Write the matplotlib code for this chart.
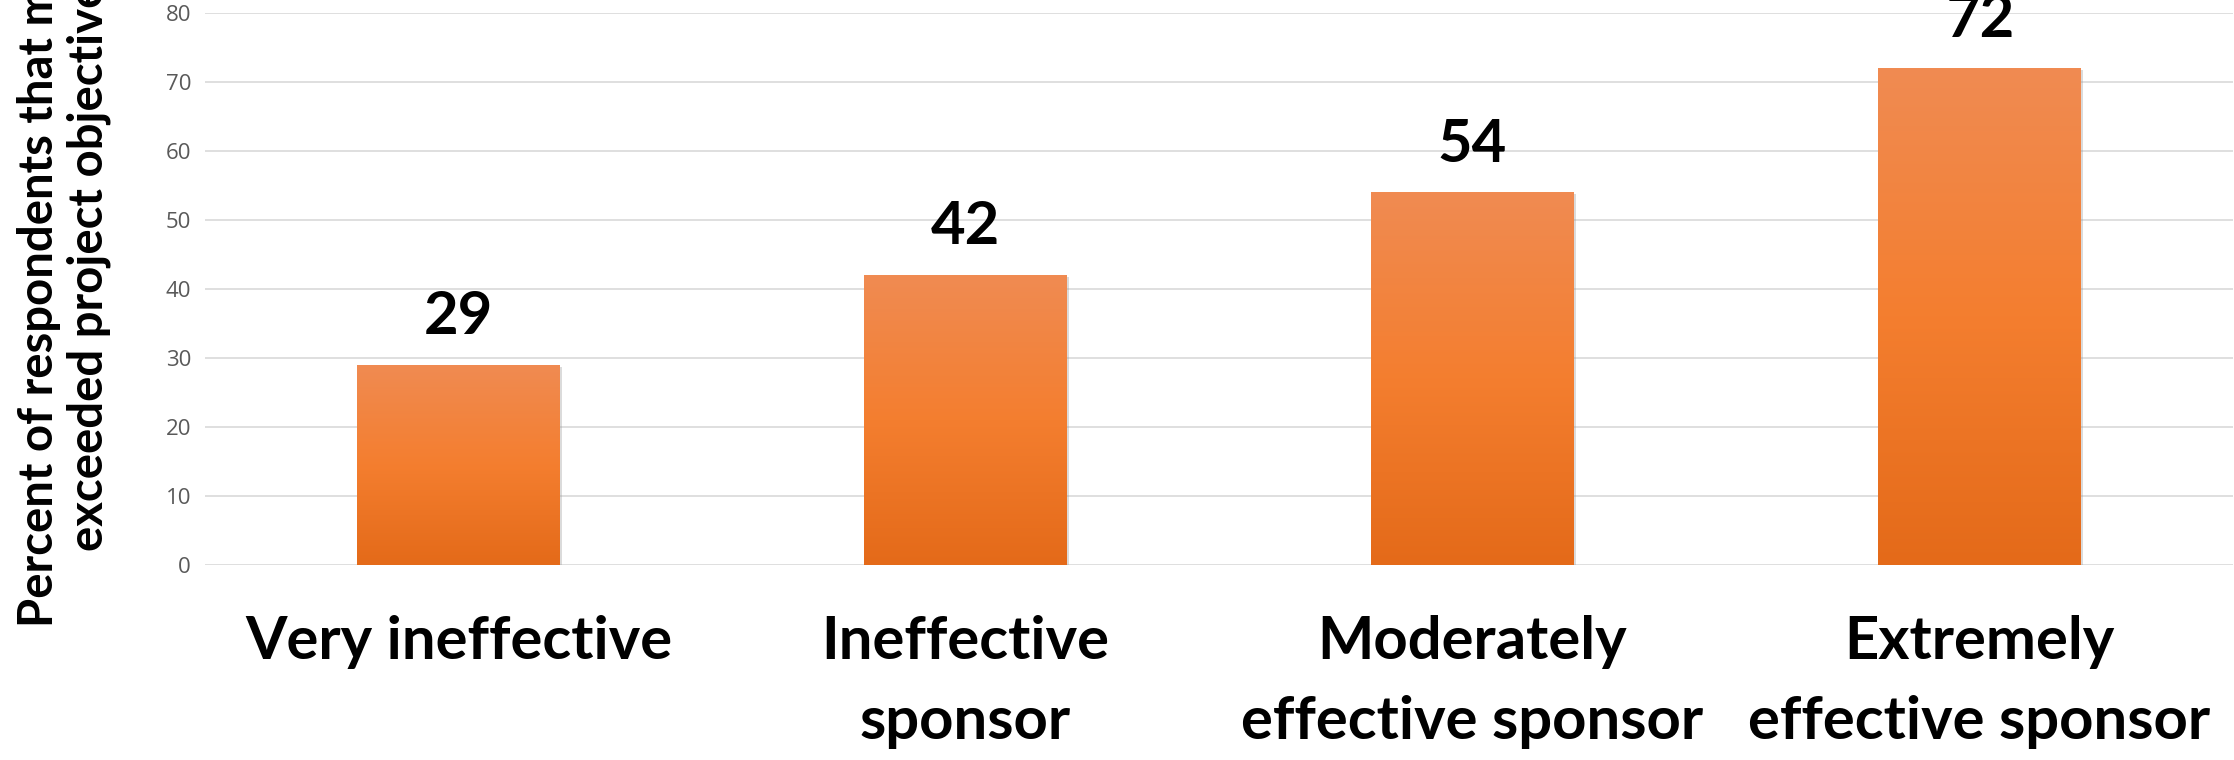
import numpy as np
import matplotlib.pyplot as plt
from matplotlib import patheffects
from matplotlib.colors import LinearSegmentedColormap

categories = ["Very ineffective", "Ineffective\nsponsor",
              "Moderately\neffective sponsor", "Extremely\neffective sponsor"]
values = [29, 42, 54, 72]
y_ticks = [0, 10, 20, 30, 40, 50, 60, 70, 80]
y_label = "Percent of respondents that met or\nexceeded project objectives"

bold_font = ["Lato", "DejaVu Sans"]

fig = plt.figure(figsize=(22.34, 7.6), dpi=100)
ax = fig.add_axes([205 / 2234, 195 / 760, 2028 / 2234, 552 / 760])

x = np.arange(len(categories))
bars = ax.bar(x, values, width=0.40, color="#F07F2E", zorder=2,
              edgecolor="none")

# vertical orange gradient inside each bar
grad = LinearSegmentedColormap.from_list(
    "bar_grad", ["#E46A19", "#F47E2F", "#F08B52"])
ramp = np.linspace(0, 1, 256).reshape(-1, 1)
for b in bars:
    b.set_path_effects([patheffects.SimplePatchShadow(offset=(1.5, -1.5),
                                                      shadow_rgbFace="#9a9a9a",
                                                      alpha=0.35),
                        patheffects.Normal()])
    im = ax.imshow(ramp, cmap=grad, origin="lower", aspect="auto",
                   extent=[b.get_x(), b.get_x() + b.get_width(), 0, b.get_height()],
                   zorder=3)
    im.set_clip_path(b)

for xi, v in zip(x, values):
    ax.annotate(str(v), (xi, v), xytext=(0, 15), textcoords="offset points",
                ha="center", va="bottom", fontsize=43, fontweight="bold",
                family=bold_font, color="black", annotation_clip=False)

ax.set_xlim(-0.5, len(categories) - 0.5)
ax.set_ylim(0, 80)
ax.set_yticks(y_ticks)
ax.set_xticks(x)
ax.set_xticklabels(categories, fontsize=43, fontweight="bold", family=bold_font,
                   linespacing=1.6, va="top")
for lab in ax.get_yticklabels():
    lab.set_family(["Open Sans", "DejaVu Sans"])
ax.tick_params(axis="y", labelsize=16, labelcolor="#595959", length=0, pad=10)
ax.tick_params(axis="x", length=0, pad=36)
ax.grid(axis="y", color="#D9D9D9", linewidth=1.2, zorder=0)
for s in ax.spines.values():
    s.set_visible(False)

fig.text(64 / 2234, 133 / 760, y_label, rotation=90, ha="center", va="bottom",
         multialignment="center", fontsize=34, fontweight="bold",
         family=bold_font, linespacing=1.15)

fig.savefig("out.png", dpi=100)
